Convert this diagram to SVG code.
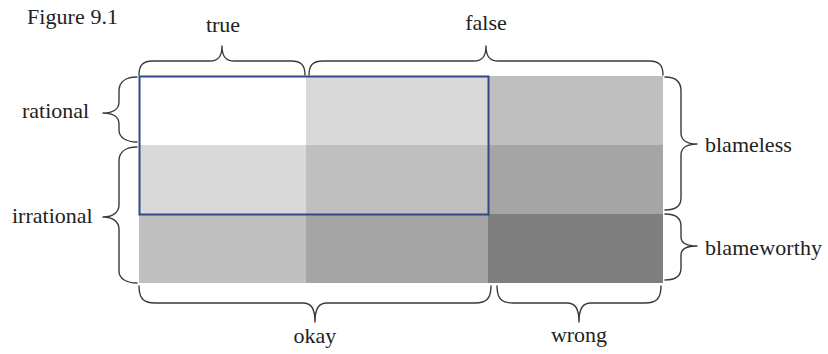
<svg xmlns="http://www.w3.org/2000/svg" width="828" height="354" viewBox="0 0 828 354">
  <style>
    .lbl { font-family: "Liberation Serif", "DejaVu Serif", serif; font-size: 22px; fill: #222; }
    .cap { font-family: "Liberation Serif", "DejaVu Serif", serif; font-size: 22px; fill: #222; }
    .brace { fill: none; stroke: #3a3a3a; stroke-width: 1.4; stroke-linecap: round; stroke-linejoin: round; }
    .frame { fill: none; stroke: #2f4a86; stroke-width: 2; }
  </style>
  <rect width="828" height="354" fill="#ffffff"/>

  <text class="cap" x="27" y="24" textLength="91" lengthAdjust="spacing">Figure 9.1</text>

  <!-- 3x3 grid of shaded cells -->
  <g id="grid">
    <rect x="139" y="76" width="167" height="69" fill="#ffffff"/>
    <rect x="306" y="76" width="182" height="69" fill="#d9d9d9"/>
    <rect x="488" y="76" width="175" height="69" fill="#bfbfbf"/>
    <rect x="139" y="145" width="167" height="69" fill="#d9d9d9"/>
    <rect x="306" y="145" width="182" height="69" fill="#bfbfbf"/>
    <rect x="488" y="145" width="175" height="69" fill="#a5a5a5"/>
    <rect x="139" y="214" width="167" height="69" fill="#bfbfbf"/>
    <rect x="306" y="214" width="182" height="69" fill="#a5a5a5"/>
    <rect x="488" y="214" width="175" height="69" fill="#7f7f7f"/>
  </g>

  <!-- outlined region -->
  <g id="highlight">
    <rect class="frame" x="139.5" y="76.5" width="349" height="138"/>
  </g>

  <g id="connectors">
    <!-- top braces -->
    <path class="brace" d="M139,75 C139,65 143,61 153,61 L210,61 C218,61 222,57 222,46 C222,57 226,61 234,61 L291,61 C301,61 305,65 305,75"/>
    <path class="brace" d="M309,75 C309,65 313,61 323,61 L474,61 C482,61 486,57 486,46 C486,57 490,61 498,61 L649,61 C659,61 663,65 663,75"/>
    <!-- left braces -->
    <path class="brace" d="M137,77 C127,77 119,81 119,91 L119,102 C119,109 113,113 103,113 C113,113 119,117 119,124 L119,130 C119,138 127,142 137,142"/>
    <path class="brace" d="M137,147 C127,147 119,151 119,161 L119,205 C119,212 113,217 103,217 C113,217 119,222 119,229 L119,271 C119,279 127,283 137,283"/>
    <!-- right braces -->
    <path class="brace" d="M665,77 C675,77 681,81 681,91 L681,133 C681,140 687,144 697,144 C687,144 681,148 681,155 L681,198 C681,206 675,210 665,210"/>
    <path class="brace" d="M665,214 C675,214 681,218 681,226 L681,237 C681,243 687,246 697,246 C687,246 681,249 681,255 L681,268 C681,276 675,280 665,280"/>
    <!-- bottom braces -->
    <path class="brace" d="M139,286 C139,298 143,303 155,303 L303,303 C311,303 315,308 315,322 C315,308 319,303 327,303 L475,303 C487,303 491,298 491,286"/>
    <path class="brace" d="M497,286 C497,298 501,303 513,303 L567,303 C575,303 579,308 579,322 C579,308 583,303 591,303 L645,303 C657,303 661,298 661,286"/>
  </g>

  <g id="labels">
    <text class="lbl" x="223" y="32" text-anchor="middle">true</text>
    <text class="lbl" x="486" y="30" text-anchor="middle">false</text>
    <text class="lbl" x="22" y="118">rational</text>
    <text class="lbl" x="12" y="223">irrational</text>
    <text class="lbl" x="705" y="152">blameless</text>
    <text class="lbl" x="705" y="255" textLength="117" lengthAdjust="spacing">blameworthy</text>
    <text class="lbl" x="315" y="343" text-anchor="middle">okay</text>
    <text class="lbl" x="579" y="342" text-anchor="middle">wrong</text>
  </g>
</svg>
